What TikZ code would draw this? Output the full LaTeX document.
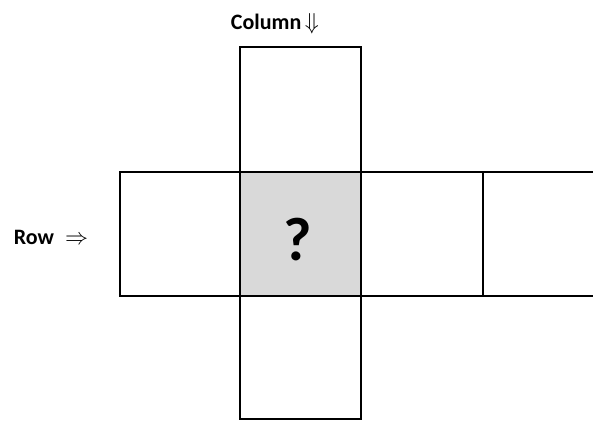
\documentclass[tikz,border=0pt]{standalone}
\usepackage{fontspec}
\setmainfont{Carlito}
\begin{document}
\begin{tikzpicture}[x=0.75pt,y=-0.75pt,
  cell/.style={draw=black,line width=1.7pt},
  lbl/.style={font=\fontsize{16.5}{19}\selectfont\bfseries,inner sep=0pt}]
\useasboundingbox (0,0) rectangle (593,421);
\begin{scope}
\clip (0,0) rectangle (593,421);
\definecolor{cellgrey}{HTML}{D9D9D9}
\path[cell] (240,47) rectangle (361,172);
\path[cell,fill=cellgrey] (240,172) rectangle (361,296);
\path[cell] (240,296) rectangle (361,419);
\path[cell] (120,172) rectangle (240,296);
\path[cell] (361,172) rectangle (483,296);
\draw[line width=1.7pt] (600,172) -- (483,172) -- (483,296) -- (600,296);
\end{scope}
\node[font=\fontsize{46}{52}\selectfont\bfseries,inner sep=0pt] (q) at (298,240) {?};
\node[lbl] (col) at (275,24) {Column\,$\Downarrow$};
\node[lbl] (row) at (51,237) {Row\; $\Rightarrow$};
\end{tikzpicture}
\end{document}
